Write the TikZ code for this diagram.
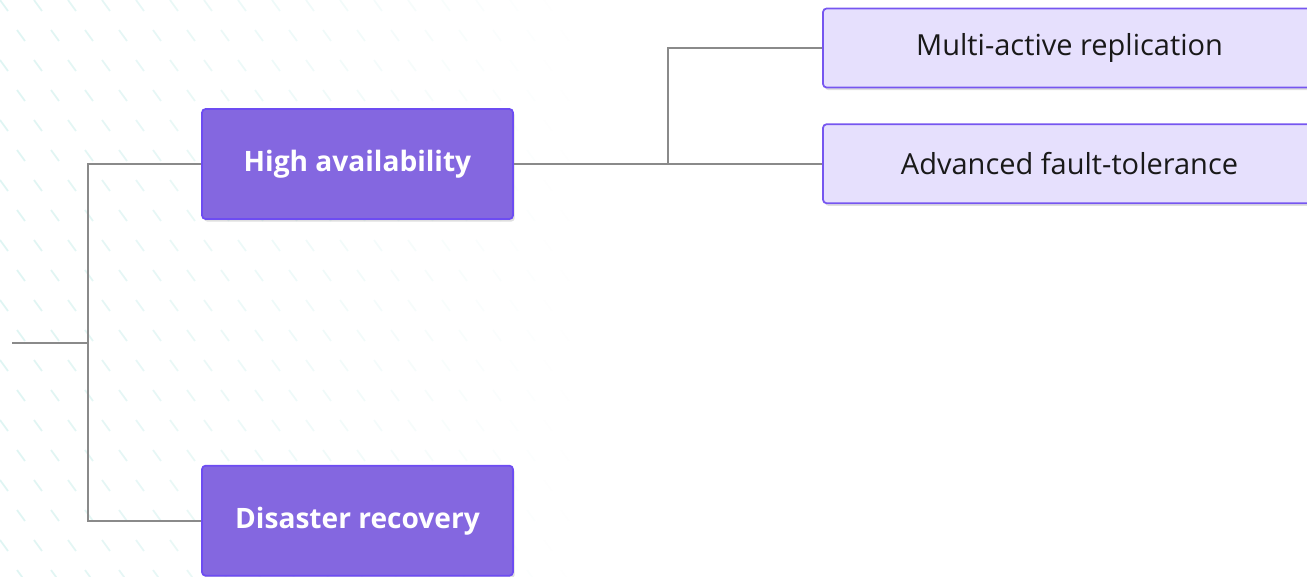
\documentclass[tikz,border=0pt]{standalone}
\usepackage{fontspec}
\setmainfont{Open Sans}
\usetikzlibrary{positioning, shadows}
\definecolor{boxdark}{HTML}{8467E0}
\definecolor{edgedark}{HTML}{6D4CF2}
\definecolor{boxlight}{HTML}{E6E0FD}
\definecolor{edgelight}{HTML}{7656F0}
\definecolor{wire}{HTML}{8A8A8A}
\definecolor{streak}{HTML}{BFEAE6}
\tikzstyle{topic} = [rectangle, rounded corners=2pt, minimum width=6.22cm, minimum height=2.2cm, text centered, draw=edgedark, line width=1pt, fill=boxdark, text=white, font=\fontsize{16}{19}\selectfont\bfseries, drop shadow={opacity=0.25, shadow xshift=1pt, shadow yshift=-1.5pt}]
\tikzstyle{leaf} = [rectangle, rounded corners=2pt, minimum width=9.86cm, minimum height=1.58cm, text centered, draw=edgelight, line width=1pt, fill=boxlight, text=black!90, font=\fontsize{16.5}{19}\selectfont, drop shadow={opacity=0.25, shadow xshift=1pt, shadow yshift=-1.5pt}]
\tikzstyle{link} = [draw=wire, line width=1.1pt]

\begin{document}
\begin{tikzpicture}[x=0.02cm, y=-0.02cm]
\useasboundingbox (0,0) rectangle (1307,576);

% trazos de fondo
\foreach \i in {0,...,18} {
  \foreach \j in {0,...,19} {
    \pgfmathsetmacro\px{\i*34 + mod(\j,2)*17}
    \pgfmathsetmacro\py{\j*30}
    \pgfmathtruncatemacro\op{max(0, 50 - \i*3)}
    \draw [streak!\op!white, line width=1pt] (\px,\py) -- ++(8,11);
  }
}

\node (ha) [topic] at (357.5,164) {High availability};
\node (dr) [topic, below=4.9cm of ha] {Disaster recovery};
\node (mar) [leaf] at (1069.5,48) {Multi-active replication};
\node (aft) [leaf, below=0.7cm of mar] {Advanced fault-tolerance};

\coordinate (root) at (12,343);
\coordinate (j1) at (88,343);
\coordinate (j2) at (668,164);

%% las conexiones despues de los nodos
\draw [link] (root) -- (j1);
\draw [link] (ha.west) -| (j1) |- (dr.west);
\draw [link] (ha.east) -- (ha.east -| aft.west);
\draw [link] (j2) |- (mar.west);

\end{tikzpicture}
\end{document}
